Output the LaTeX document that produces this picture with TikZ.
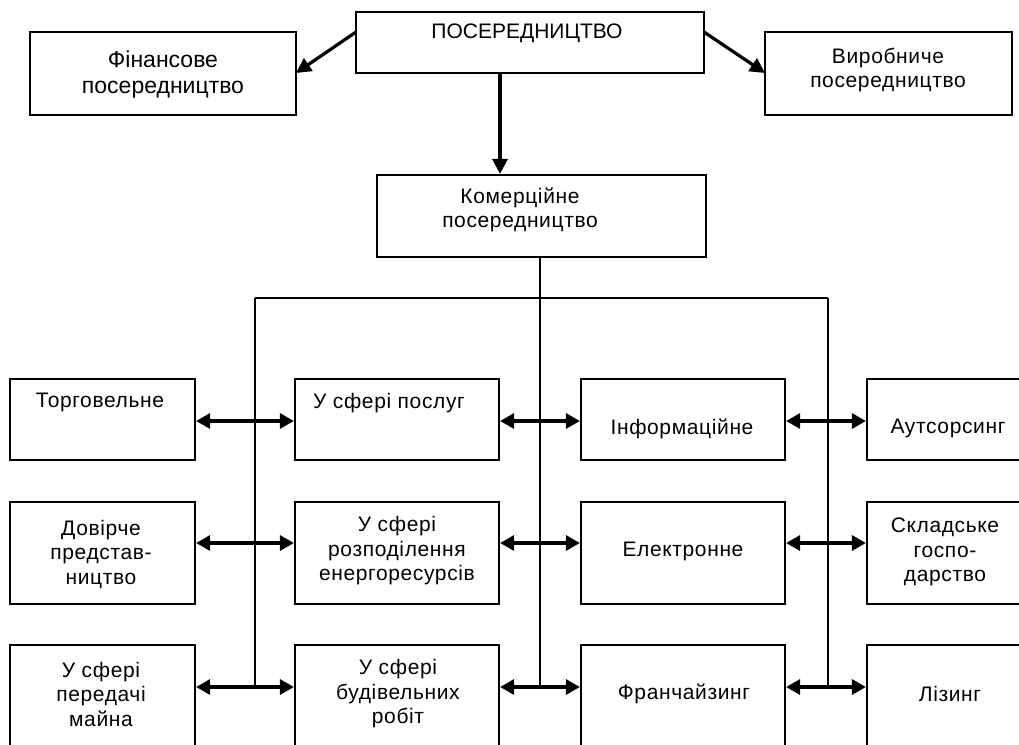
\documentclass[tikz,border=0pt]{standalone}
\usepackage{fontspec}
\setmainfont{Liberation Sans}
\newfontfamily\spacedfont[LetterSpace=3]{Liberation Sans}
\usetikzlibrary{arrows.meta}
\begin{document}
\begin{tikzpicture}[x=1pt,y=-1pt,
  box/.style={draw,line width=2.2pt,rectangle,inner sep=0pt},
  txt/.style={inner sep=0pt,align=center,font=\spacedfont\fontsize{21}{24.5}\selectfont},
  toptxt/.style={inner sep=0pt,align=center,font=\fontsize{21}{24.5}\selectfont},
  bigtxt/.style={inner sep=0pt,align=center,font=\fontsize{23}{26}\selectfont},
  ln/.style={line width=2.2pt},
  oneway/.style={line width=3.2pt,-{Triangle[length=15pt,width=15pt]}},
  twoway/.style={line width=3.2pt,{Triangle[length=14pt,width=15pt]}-{Triangle[length=14pt,width=15pt]}}
]
\useasboundingbox (0,0) rectangle (1019,744);
\clip (0,0) rectangle (1019,744);
% top level
\node[box,minimum width=348pt,minimum height=61pt] (top) at (530,42.5) {};
\node[toptxt] (ttop) at (527,33) {ПОСЕРЕДНИЦТВО};
\node[box,minimum width=266pt,minimum height=83pt] (fin) at (163,73.5) {};
\node[bigtxt] (tfin) at (163,75) {Фінансове\\посередництво};
\node[box,minimum width=247pt,minimum height=83pt] (vyr) at (888.5,73.5) {};
\node[txt] (tvyr) at (888,70) {Виробниче\\посередництво};
\node[box,minimum width=329pt,minimum height=82pt] (kom) at (541.5,216) {};
\node[txt] (tkom) at (520,210) {Комерційне\\посередництво};
% arrows from top
\coordinate (tl) at (356,32);
\coordinate (tr) at (704,32);
\coordinate (fe) at (296,73);
\coordinate (ve) at (765,73);
\draw[oneway] (tl) -- (fe);
\draw[oneway] (tr) -- (ve);
\draw[oneway] (top.south -| 500,0) -- (kom.north -| 500,0);
% rows
\def\cA{102.5}\def\cB{397}\def\cC{683}\def\cD{958}
\def\wA{185pt}\def\wB{204pt}\def\wC{204pt}\def\wD{182pt}
% row 1 (379-460)
\node[box,minimum width=\wA,minimum height=81pt] (a1) at (\cA,419.5) {};
\node[box,minimum width=\wB,minimum height=81pt] (b1) at (\cB,419.5) {};
\node[box,minimum width=\wC,minimum height=81pt] (c1) at (\cC,419.5) {};
\node[box,minimum width=\wD,minimum height=81pt] (d1) at (\cD,419.5) {};
\node[txt] at (100,402) {Торговельне};
\node[txt] at (389,403) {У сфері послуг};
\node[txt] at (682,429) {Інформаційне};
\node[txt] at (948,428) {Аутсорсинг};
% row 2 (502-604)
\node[box,minimum width=\wA,minimum height=102pt] (a2) at (\cA,553) {};
\node[box,minimum width=\wB,minimum height=102pt] (b2) at (\cB,553) {};
\node[box,minimum width=\wC,minimum height=102pt] (c2) at (\cC,553) {};
\node[box,minimum width=\wD,minimum height=102pt] (d2) at (\cD,553) {};
\node[txt] at (101,554) {Довірче\\представ-\\ництво};
\node[txt] at (397,551) {У сфері\\розподілення\\енергоресурсів};
\node[txt] at (683,551) {Електронне};
\node[txt] at (945,552) {Складське\\госпо-\\дарство};
% row 3 (645-)
\node[box,minimum width=\wA,minimum height=130pt] (a3) at (\cA,710) {};
\node[box,minimum width=\wB,minimum height=130pt] (b3) at (\cB,710) {};
\node[box,minimum width=\wC,minimum height=130pt] (c3) at (\cC,710) {};
\node[box,minimum width=\wD,minimum height=130pt] (d3) at (\cD,710) {};
\node[txt] at (101,694) {У сфері\\передачі\\майна};
\node[txt] at (398,694) {У сфері\\будівельних\\робіт};
\node[txt] at (684,694) {Франчайзинг};
\node[txt] at (950,694) {Лізинг};
% trunk lines
\coordinate (hl) at (255,298);
\coordinate (hr) at (828,298);
\coordinate (bl) at (255,687);
\coordinate (bm) at (540,687);
\coordinate (br) at (828,687);
\draw[ln] (kom.south -| bm) -- (bm);
\draw[ln] (hl) -- (hr);
\draw[ln] (hl) -- (bl);
\draw[ln] (hr) -- (br);
% row arrows
\coordinate (y1) at (0,421);
\coordinate (y2) at (0,543);
\coordinate (y3) at (0,687);
\foreach \r in {1,2,3}{
  \draw[twoway] (a\r.east |- y\r) -- (b\r.west |- y\r);
  \draw[twoway] (b\r.east |- y\r) -- (c\r.west |- y\r);
  \draw[twoway] (c\r.east |- y\r) -- (d\r.west |- y\r);
}
\end{tikzpicture}
\end{document}
